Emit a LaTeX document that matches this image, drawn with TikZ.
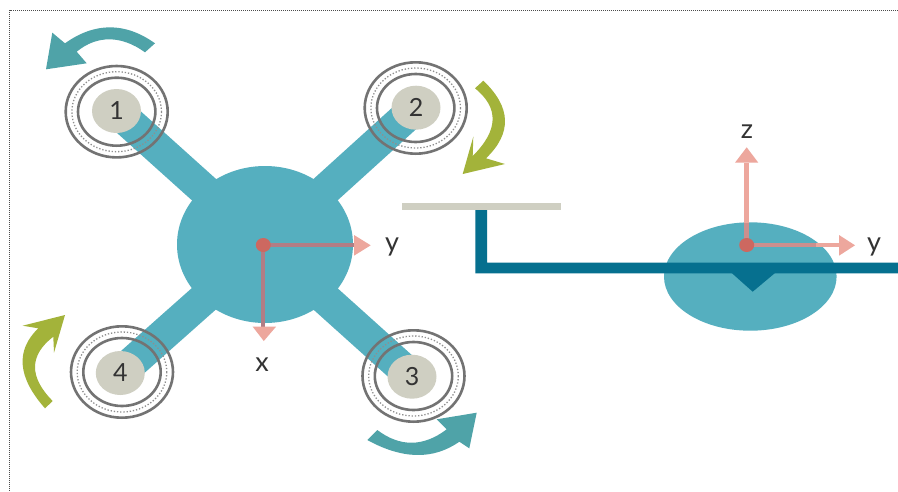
\documentclass[tikz,border=0pt]{standalone}
\usepackage{fontspec}
\setmainfont{Lato}
\usetikzlibrary{shapes.geometric}
\definecolor{bodyc}{HTML}{55AFBF}
\definecolor{spinteal}{HTML}{4FA3A8}
\definecolor{spinleaf}{HTML}{A3B33A}
\definecolor{hubc}{HTML}{CFCFC2}
\definecolor{deep}{HTML}{06708F}
\definecolor{axisc}{HTML}{EDA79D}
\definecolor{axisdark}{HTML}{B17D85}
\definecolor{axismid}{HTML}{CC8F8E}
\definecolor{dotc}{HTML}{CD6860}
\definecolor{ringc}{HTML}{737373}
\definecolor{inkc}{HTML}{333333}
\tikzset{
  x=1pt,y=-1pt,
  arm/.style={bodyc,line width=32pt},
  hubnode/.style={ellipse,fill=hubc,minimum width=49pt,minimum height=44pt,inner sep=0pt,text=inkc,font=\fontsize{25}{25}\selectfont},
  ring/.style={draw=ringc,line width=2.6pt},
  dotring/.style={draw=ringc!80,line width=1.3pt,dash pattern=on 1.3pt off 1.9pt},
  axislabel/.style={text=inkc,inner sep=0pt,font=\fontsize{27}{27}\selectfont},
  origin/.style={ellipse,fill=dotc,minimum width=15pt,minimum height=14pt,inner sep=0pt},
}
\newcommand{\rotorrings}[1]{%
  \draw[ring] (#1) ellipse [x radius=51,y radius=45.7];
  \draw[ring] (#1) ellipse [x radius=38.7,y radius=34];
  \draw[dotring] (#1) ellipse [x radius=44.8,y radius=40];
}
\newcommand{\hubtext}[1]{\raisebox{-1.5pt}{#1}}
\begin{document}
\begin{tikzpicture}
\useasboundingbox (0,0) rectangle (898,491);
\fill[white] (0,0) rectangle (898,491);
% frame
\draw[black!70,line width=0.9pt,dash pattern=on 1pt off 1pt] (898,10) -- (9.5,10) -- (9.5,491);

% quadrotor top view
\coordinate (c) at (265,244.5);
\coordinate (p1) at (116.5,111);
\coordinate (p2) at (416,107.7);
\coordinate (p3) at (412,376.7);
\coordinate (p4) at (120.3,373);
\draw[arm] (c) -- (p1);
\draw[arm] (c) -- (p2);
\draw[arm] (c) -- (p3);
\draw[arm] (c) -- (p4);
\node[ellipse,fill=bodyc,minimum width=176pt,minimum height=157pt,inner sep=0pt] (body) at (c) {};
\node[hubnode] (hub1) at (p1) {\hubtext{1}};
\node[hubnode] (hub2) at (p2) {\hubtext{2}};
\node[hubnode] (hub3) at (p3) {\hubtext{3}};
\node[hubnode] (hub4) at (p4) {\hubtext{4}};
\coordinate (r1) at (116.7,111.7);
\coordinate (r2) at (415.7,108);
\coordinate (r3) at (413.5,376);
\coordinate (r4) at (122,372);
\rotorrings{r1}
\rotorrings{r2}
\rotorrings{r3}
\rotorrings{r4}

% spin arrows
\fill[spinteal] (155,43.3) .. controls (125,22) and (95,22) .. (65,43.3)
  -- (52.3,32.7) -- (46,69.3) -- (86.7,63.3) -- (76.7,51.7)
  .. controls (97,35) and (121.4,35.2) .. (145,52.3) -- cycle;
\fill[spinleaf] (483.3,80.7) .. controls (511.3,107.2) and (512.2,133.1) .. (486,158.3)
  -- (505,164) -- (462.7,174) -- (473.3,136.7) -- (472.7,156)
  .. controls (498.3,130.6) and (499.4,108) .. (475,88.3) -- cycle;
\fill[spinteal] (367.3,440) .. controls (402.5,459.4) and (433.3,460) .. (459.3,441.7)
  -- (469.3,448.3) -- (476.7,412.7) -- (436.7,419.3) -- (446.7,429.3)
  .. controls (423.5,447) and (400,447.2) .. (377.3,430) -- cycle;
\fill[spinleaf] (45,408.3) .. controls (17.5,377.3) and (15.3,350.4) .. (38.3,328.3)
  -- (22.7,325.7) -- (65,315) -- (54,352.7) -- (53.3,336.7)
  .. controls (29.1,355.3) and (28.9,377) .. (52.7,401) -- cycle;

% body axes, top view
\coordinate (oa) at (263.3,245);
\coordinate (ya) at (354,245);
\coordinate (xa) at (263.3,327);
\draw[axisdark,line width=4.2pt] (ya) -- (oa) -- (xa);
\fill[axisc] (354,235) -- (370.7,245.3) -- (354,255.7) -- cycle;
\fill[axisc] (252.7,326.7) -- (276,326.7) -- (263.8,341) -- cycle;
\node[origin] (oleft) at (oa) {};
\node[axislabel] (ylabelA) at (392,247) {y};
\node[axislabel] (xlabelA) at (262,364.5) {x};

% side view
\node[ellipse,fill=bodyc,minimum width=172.6pt,minimum height=108.4pt,inner sep=0pt] (side) at (750.3,276.5) {};
\coordinate (ob) at (746.7,245);
\coordinate (zb) at (746.7,163);
\coordinate (zin) at (746.7,222.8);
\coordinate (yb) at (840,245);
\coordinate (yin) at (816,245);
\draw[axisc,line width=5.4pt] (zb) -- (zin);
\draw[axismid,line width=5.4pt] (zin) -- (ob);
\draw[axismid,line width=4.4pt] (ob) -- (yin);
\draw[axisc,line width=4.4pt] (yin) -- (yb);
\fill[axisc] (735,162.7) -- (746.7,147.3) -- (758.3,162.7) -- cycle;
\fill[axisc] (839,235) -- (855,245.3) -- (839,255.7) -- cycle;
\node[origin] (oright) at (ob) {};
\node[axislabel] (zlabel) at (747,131.5) {z};
\node[axislabel] (ylabelB) at (874,246.5) {y};
% shaft
\fill[deep] (475.3,210) -- (487,210) -- (487,262.7) -- (898,262.7) -- (898,273.3) -- (475.3,273.3) -- cycle;
\fill[deep] (731.7,273) -- (775,273) -- (752.7,291.7) -- cycle;
\fill[hubc] (402.3,203.3) rectangle (560.7,210);
\end{tikzpicture}
\end{document}
